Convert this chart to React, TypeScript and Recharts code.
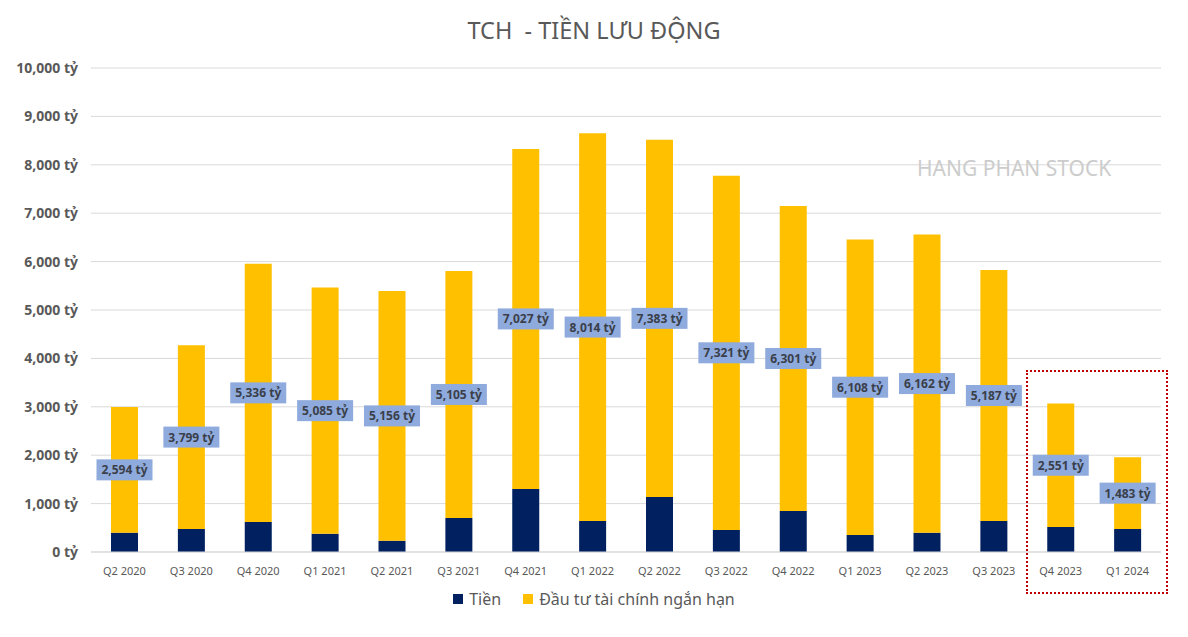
import { BarChart, Bar, XAxis, YAxis, CartesianGrid, LabelList } from 'recharts'

const quarters = [
  'Q2 2020', 'Q3 2020', 'Q4 2020', 'Q1 2021', 'Q2 2021', 'Q3 2021', 'Q4 2021', 'Q1 2022',
  'Q2 2022', 'Q3 2022', 'Q4 2022', 'Q1 2023', 'Q2 2023', 'Q3 2023', 'Q4 2023', 'Q1 2024',
]
const tien = [400, 475, 620, 378, 234, 702, 1302, 640, 1136, 455, 847, 351, 399, 640, 517, 475]
const dauTuNganHan = [2594, 3799, 5336, 5085, 5156, 5105, 7027, 8014, 7383, 7321, 6301, 6108, 6162, 5187, 2551, 1483]
const yTicks = [0, 1000, 2000, 3000, 4000, 5000, 6000, 7000, 8000, 9000, 10000]

const data = quarters.map((q, i) => ({ quarter: q, tien: tien[i], dauTu: dauTuNganHan[i] }))

const FONT = '"Noto Sans", sans-serif'
const NAVY = '#002060'
const GOLD = '#ffc000'
const GREY = '#595959'

const fmt = (v: number) => `${v.toLocaleString('en-US')} tỷ`

// blue box in the middle of the yellow segment
function ValueBox(props: any) {
  const { x, y, width, height, value } = props
  const cx = x + width / 2
  const cy = y + height / 2
  const w = 56
  const h = 21
  return (
    <g>
      <rect x={cx - w / 2} y={cy - h / 2} width={w} height={h} fill="#8faadc" />
      <text
        x={cx}
        y={cy}
        textAnchor="middle"
        dominantBaseline="central"
        fontFamily={FONT}
        fontSize={12}
        fontWeight={700}
        fill="#3a3f4a"
      >
        {fmt(value)}
      </text>
    </g>
  )
}

export default function App() {
  return (
    <div style={{ position: 'absolute', left: 0, top: 0, width: 1188, height: 637, background: '#fff', fontFamily: FONT }}>
      <div style={{ position: 'absolute', left: 0, width: 1188, top: 14, textAlign: 'center', fontSize: 23.5, color: GREY, whiteSpace: 'pre' }}>
        {'TCH  - TIỀN LƯU ĐỘNG'}
      </div>

      <BarChart
        width={1188}
        height={637}
        data={data}
        margin={{ top: 68, right: 27, bottom: 55, left: 0 }}
        barSize={27}
      >
        <CartesianGrid vertical={false} stroke="#d9d9d9" />
        <XAxis
          dataKey="quarter"
          tickLine={false}
          axisLine={{ stroke: '#d9d9d9' }}
          tickSize={0}
          tickMargin={15}
          height={30}
          interval={0}
          tick={{ fontSize: 11, fill: GREY, fontFamily: FONT }}
        />
        <YAxis
          width={91}
          domain={[0, 10000]}
          ticks={yTicks}
          tickLine={false}
          axisLine={false}
          tickSize={0}
          tickMargin={13}
          tickFormatter={fmt}
          tick={{ fontSize: 14, fontWeight: 700, fill: GREY, fontFamily: FONT }}
        />
        <Bar dataKey="tien" stackId="a" fill={NAVY} isAnimationActive={false} />
        <Bar dataKey="dauTu" stackId="a" fill={GOLD} isAnimationActive={false}>
          <LabelList dataKey="dauTu" content={ValueBox} />
        </Bar>
      </BarChart>

      <div style={{ position: 'absolute', left: 917, top: 154, fontSize: 21, color: '#cccccc', whiteSpace: 'nowrap' }}>
        HANG PHAN STOCK
      </div>

      <div style={{ position: 'absolute', left: 1026, top: 370, width: 138, height: 220, border: '2px dotted #c00000' }} />

      <div style={{ position: 'absolute', left: 0, width: 1188, top: 588, display: 'flex', justifyContent: 'center', gap: 22, fontSize: 16, color: GREY }}>
        <span style={{ display: 'flex', alignItems: 'center', gap: 6 }}>
          <span style={{ width: 10, height: 10, background: NAVY, display: 'inline-block' }} />
          Tiền
        </span>
        <span style={{ display: 'flex', alignItems: 'center', gap: 6 }}>
          <span style={{ width: 10, height: 10, background: GOLD, display: 'inline-block' }} />
          Đầu tư tài chính ngắn hạn
        </span>
      </div>
    </div>
  )
}
